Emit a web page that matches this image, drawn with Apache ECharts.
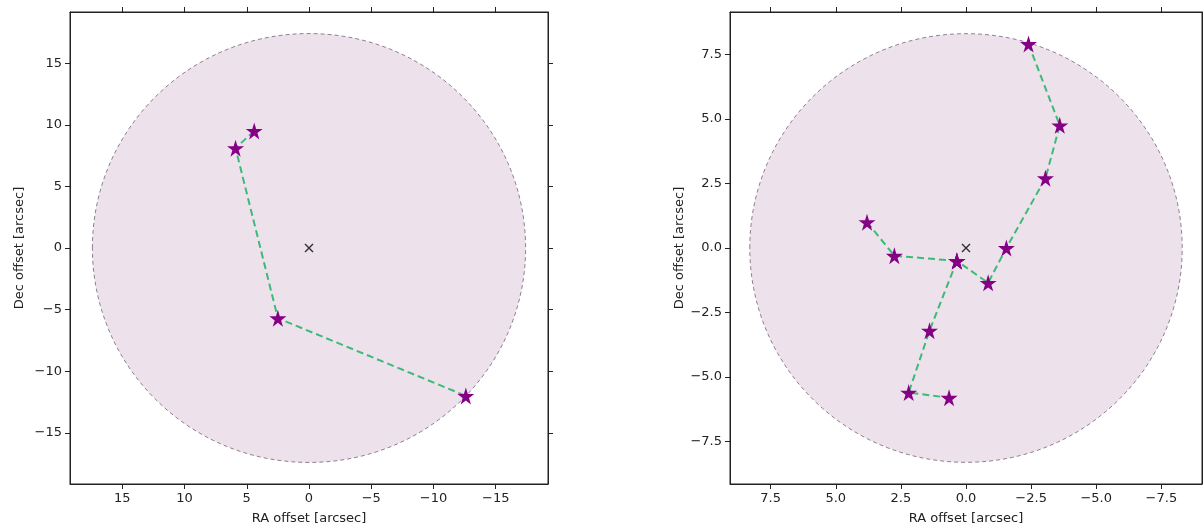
<!DOCTYPE html>
<html><head><meta charset="utf-8">
<script src="https://cdn.jsdelivr.net/npm/echarts@6/dist/echarts.min.js"></script>
<style>html,body{margin:0;background:#fff}#c{width:1203px;height:530px}</style>
</head><body><div id="c"></div>
<script>
// left field
const leftPath = [[4.4, 9.5], [5.9, 8.1], [2.5, -5.7], [-12.6, -12.0]];
const leftRadius = 17.4;
const leftTicks = [15, 10, 5, 0, -5, -10, -15];
// right field: chains joined at a hub
const rightChainA = [[-2.4, 7.9], [-3.6, 4.75], [-3.05, 2.7], [-1.55, 0.0], [-0.85, -1.35], [0.35, -0.5]];
const rightChainB = [[0.35, -0.5], [2.75, -0.3], [3.8, 1.0]];
const rightChainC = [[0.35, -0.5], [1.4, -3.2], [2.2, -5.6], [0.65, -5.8]];
const rightRadius = 8.3;
const rightTicks = [7.5, 5, 2.5, 0, -2.5, -5, -7.5];

const STAR = 'path://M50,0 L61,35 L98,35 L68,57 L79,91 L50,70 L21,91 L32,57 L2,35 L39,35 Z';
const font = {fontFamily: 'DejaVu Sans', fontSize: 13, color: '#222'};
const fmt = (d) => v => (v < 0 ? '\u2212' : '') + Math.abs(v).toFixed(d);

function axes(gi, ticks, lim, dec, isX, name) {
  const base = {
    gridIndex: gi, type: 'value', min: -lim, max: lim, splitLine: {show: false},
    axisLine: {onZero: false, lineStyle: {color: '#222'}},
    axisTick: {inside: false, length: 5, customValues: ticks, lineStyle: {color: '#222'}},
    inverse: isX
  };
  return [
    Object.assign({}, base, {position: isX ? 'bottom' : 'left', name: name, nameLocation: 'middle',
      nameGap: isX ? 28 : 44, nameTextStyle: font,
      axisLabel: Object.assign({customValues: ticks, formatter: fmt(dec)}, font)}),
    Object.assign({}, base, {position: isX ? 'top' : 'right', axisLabel: {show: false}})
  ];
}

function field(gi, r) {
  return {
    type: 'custom', xAxisIndex: gi * 2, yAxisIndex: gi * 2, data: [[0, 0]], silent: true, z: 1,
    renderItem: (p, api) => {
      const c = api.coord([0, 0]);
      const s = api.size([r, r]);
      return {type: 'ellipse', shape: {cx: c[0], cy: c[1], rx: s[0], ry: s[1]},
        style: {fill: '#ede2eb', stroke: '#8f7f8f', lineWidth: 1, lineDash: [4, 3]}};
    }
  };
}
function chain(gi, data) {
  return {type: 'line', xAxisIndex: gi * 2, yAxisIndex: gi * 2, data: data, z: 3,
    lineStyle: {color: '#3dba78', width: 2, type: [7, 4]},
    symbol: STAR, symbolSize: 17, itemStyle: {color: '#850085'}};
}
function centre(gi) {
  return {type: 'scatter', xAxisIndex: gi * 2, yAxisIndex: gi * 2, data: [[0, 0]], z: 4,
    symbol: 'path://M0,0 L10,10 M10,0 L0,10', symbolSize: 8, itemStyle: {color: 'none', borderColor: '#000', borderWidth: 1.4}};
}

const chart = echarts.init(document.getElementById('c'));
chart.setOption({
  animation: false,
  grid: [
    {left: 70, top: 12, width: 478, height: 475, show: true, borderColor: '#222', borderWidth: 1},
    {left: 730, top: 12, width: 472, height: 475, show: true, borderColor: '#222', borderWidth: 1}
  ],
  xAxis: [...axes(0, leftTicks, 19.2, 0, true, 'RA offset [arcsec]'), ...axes(1, rightTicks, 9.06, 1, true, 'RA offset [arcsec]')],
  yAxis: [...axes(0, leftTicks, 19.15, 0, false, 'Dec offset [arcsec]'), ...axes(1, rightTicks, 9.14, 1, false, 'Dec offset [arcsec]')],
  series: [
    field(0, leftRadius), chain(0, leftPath), centre(0),
    field(1, rightRadius), chain(1, rightChainA), chain(1, rightChainB), chain(1, rightChainC), centre(1)
  ]
});
</script></body></html>
